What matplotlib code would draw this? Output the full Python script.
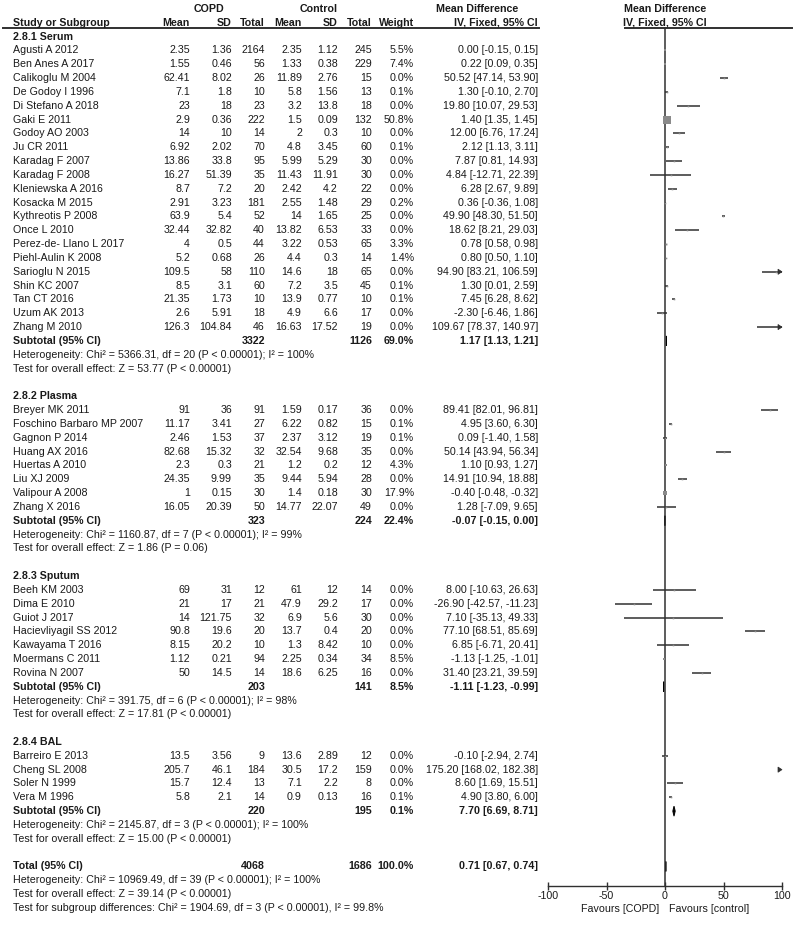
import numpy as np
import matplotlib
matplotlib.use("Agg")
import matplotlib.pyplot as plt
from matplotlib.patches import Polygon

plt.rcParams["font.family"] = ["Liberation Sans", "DejaVu Sans"]
plt.rcParams["axes.unicode_minus"] = False

# ---- data ----
groups = ["2.8.1 Serum", "2.8.2 Plasma", "2.8.3 Sputum", "2.8.4 BAL"]
group_size = [21, 8, 7, 4]

studies = [
    "Agusti A 2012", "Ben Anes A 2017", "Calikoglu M 2004", "De Godoy I 1996",
    "Di Stefano A 2018", "Gaki E 2011", "Godoy AO 2003", "Ju CR 2011",
    "Karadag F 2007", "Karadag F 2008", "Kleniewska A 2016", "Kosacka M 2015",
    "Kythreotis P 2008", "Once L 2010", "Perez-de- Llano L 2017", "Piehl-Aulin K 2008",
    "Sarioglu N 2015", "Shin KC 2007", "Tan CT 2016", "Uzum AK 2013", "Zhang M 2010",
    "Breyer MK 2011", "Foschino Barbaro MP 2007", "Gagnon P 2014", "Huang AX 2016",
    "Huertas A 2010", "Liu XJ 2009", "Valipour A 2008", "Zhang X 2016",
    "Beeh KM 2003", "Dima E 2010", "Guiot J 2017", "Hacievliyagil SS 2012",
    "Kawayama T 2016", "Moermans C 2011", "Rovina N 2007",
    "Barreiro E 2013", "Cheng SL 2008", "Soler N 1999", "Vera M 1996",
]
copd_mean = [2.35, 1.55, 62.41, 7.1, 23, 2.9, 14, 6.92, 13.86, 16.27, 8.7, 2.91, 63.9,
             32.44, 4, 5.2, 109.5, 8.5, 21.35, 2.6, 126.3,
             91, 11.17, 2.46, 82.68, 2.3, 24.35, 1, 16.05,
             69, 21, 14, 90.8, 8.15, 1.12, 50,
             13.5, 205.7, 15.7, 5.8]
copd_sd = [1.36, 0.46, 8.02, 1.8, 18, 0.36, 10, 2.02, 33.8, 51.39, 7.2, 3.23, 5.4,
           32.82, 0.5, 0.68, 58, 3.1, 1.73, 5.91, 104.84,
           36, 3.41, 1.53, 15.32, 0.3, 9.99, 0.15, 20.39,
           31, 17, 121.75, 19.6, 20.2, 0.21, 14.5,
           3.56, 46.1, 12.4, 2.1]
copd_n = [2164, 56, 26, 10, 23, 222, 14, 70, 95, 35, 20, 181, 52, 40, 44, 26, 110, 60, 10, 18, 46,
          91, 27, 37, 32, 21, 35, 30, 50,
          12, 21, 32, 20, 10, 94, 14,
          9, 184, 13, 14]
ctrl_mean = [2.35, 1.33, 11.89, 5.8, 3.2, 1.5, 2, 4.8, 5.99, 11.43, 2.42, 2.55, 14,
             13.82, 3.22, 4.4, 14.6, 7.2, 13.9, 4.9, 16.63,
             1.59, 6.22, 2.37, 32.54, 1.2, 9.44, 1.4, 14.77,
             61, 47.9, 6.9, 13.7, 1.3, 2.25, 18.6,
             13.6, 30.5, 7.1, 0.9]
ctrl_sd = [1.12, 0.38, 2.76, 1.56, 13.8, 0.09, 0.3, 3.45, 5.29, 11.91, 4.2, 1.48, 1.65,
           6.53, 0.53, 0.3, 18, 3.5, 0.77, 6.6, 17.52,
           0.17, 0.82, 3.12, 9.68, 0.2, 5.94, 0.18, 22.07,
           12, 29.2, 5.6, 0.4, 8.42, 0.34, 6.25,
           2.89, 17.2, 2.2, 0.13]
ctrl_n = [245, 229, 15, 13, 18, 132, 10, 60, 30, 30, 22, 29, 25, 33, 65, 14, 65, 45, 10, 17, 19,
          36, 15, 19, 35, 12, 28, 30, 49,
          14, 17, 30, 20, 10, 34, 16,
          12, 159, 8, 16]
weight = [5.5, 7.4, 0.0, 0.1, 0.0, 50.8, 0.0, 0.1, 0.0, 0.0, 0.0, 0.2, 0.0, 0.0, 3.3, 1.4,
          0.0, 0.1, 0.1, 0.0, 0.0,
          0.0, 0.1, 0.1, 0.0, 4.3, 0.0, 17.9, 0.0,
          0.0, 0.0, 0.0, 0.0, 0.0, 8.5, 0.0,
          0.0, 0.0, 0.0, 0.1]
md = [0.00, 0.22, 50.52, 1.30, 19.80, 1.40, 12.00, 2.12, 7.87, 4.84, 6.28, 0.36, 49.90,
      18.62, 0.78, 0.80, 94.90, 1.30, 7.45, -2.30, 109.67,
      89.41, 4.95, 0.09, 50.14, 1.10, 14.91, -0.40, 1.28,
      8.00, -26.90, 7.10, 77.10, 6.85, -1.13, 31.40,
      -0.10, 175.20, 8.60, 4.90]
ci_lo = [-0.15, 0.09, 47.14, -0.10, 10.07, 1.35, 6.76, 1.13, 0.81, -12.71, 2.67, -0.36, 48.30,
         8.21, 0.58, 0.50, 83.21, 0.01, 6.28, -6.46, 78.37,
         82.01, 3.60, -1.40, 43.94, 0.93, 10.94, -0.48, -7.09,
         -10.63, -42.57, -35.13, 68.51, -6.71, -1.25, 23.21,
         -2.94, 168.02, 1.69, 3.80]
ci_hi = [0.15, 0.35, 53.90, 2.70, 29.53, 1.45, 17.24, 3.11, 14.93, 22.39, 9.89, 1.08, 51.50,
         29.03, 0.98, 1.10, 106.59, 2.59, 8.62, 1.86, 140.97,
         96.81, 6.30, 1.58, 56.34, 1.27, 18.88, -0.32, 9.65,
         26.63, -11.23, 49.33, 85.69, 20.41, -1.01, 39.59,
         2.74, 182.38, 15.51, 6.00]

sub_copd_n = [3322, 323, 203, 220]
sub_ctrl_n = [1126, 224, 141, 195]
sub_weight = [69.0, 22.4, 8.5, 0.1]
sub_md = [1.17, -0.07, -1.11, 7.70]
sub_lo = [1.13, -0.15, -1.23, 6.69]
sub_hi = [1.21, 0.00, -0.99, 8.71]
sub_het = ["Heterogeneity: Chi² = 5366.31, df = 20 (P < 0.00001); I² = 100%",
           "Heterogeneity: Chi² = 1160.87, df = 7 (P < 0.00001); I² = 99%",
           "Heterogeneity: Chi² = 391.75, df = 6 (P < 0.00001); I² = 98%",
           "Heterogeneity: Chi² = 2145.87, df = 3 (P < 0.00001); I² = 100%"]
sub_test = ["Test for overall effect: Z = 53.77 (P < 0.00001)",
            "Test for overall effect: Z = 1.86 (P = 0.06)",
            "Test for overall effect: Z = 17.81 (P < 0.00001)",
            "Test for overall effect: Z = 15.00 (P < 0.00001)"]

total_n = [4068, 1686]
total_weight = 100.0
total_md, total_lo, total_hi = 0.71, 0.67, 0.74
total_notes = ["Heterogeneity: Chi² = 10969.49, df = 39 (P < 0.00001); I² = 100%",
               "Test for overall effect: Z = 39.14 (P < 0.00001)",
               "Test for subgroup differences: Chi² = 1904.69, df = 3 (P < 0.00001), I² = 99.8%"]

axis_ticks = [-100, -50, 0, 50, 100]

# ---- layout (pixels) ----
W, H = 797, 926
FS = 7.7
TXT = "#1a1a1a"
LINE = "#303030"
SQ = "#8a8a8a"
ROW0, DY = 9.0, 13.83
AX_L, AX_R, AX_B = 548, 782, 886
COLS = [190, 232, 265, 302, 338, 372, 414, 538]  # right edges of numeric columns


def row_y(i):
    return ROW0 + i * DY


fig = plt.figure(figsize=(W / 100, H / 100), dpi=100)
tx = fig.add_axes([0, 0, 1, 1])
tx.set_xlim(0, W)
tx.set_ylim(H, 0)
tx.axis("off")

fx = fig.add_axes([AX_L / W, (H - AX_B) / H, (AX_R - AX_L) / W, AX_B / H])
fx.patch.set_visible(False)
fx.set_xlim(-100, 100)
fx.set_ylim(AX_B, 0)
for s in ["top", "left", "right"]:
    fx.spines[s].set_visible(False)
fx.spines["bottom"].set_color(LINE)
fx.spines["bottom"].set_linewidth(1)
fx.set_yticks([])
fx.set_xticks(axis_ticks)
fx.tick_params(axis="x", direction="inout", length=6, width=1, color=LINE,
               labelsize=FS, labelcolor=TXT, pad=0.5)

px = (AX_R - AX_L) / 200.0  # pixels per data unit


def put(x, y, s, ha="right", bold=False):
    tx.text(x, y, s, ha=ha, va="center", fontsize=FS, color=TXT,
            fontweight="bold" if bold else "normal")


def arrowhead(y):
    L = 4.0 / px
    fx.add_patch(Polygon([(100 - L, y - 2.6), (100 - L, y + 2.6), (100, y)],
                         closed=True, fc=LINE, ec=LINE, lw=0.5, clip_on=False))


def draw_study(y, m, lo, hi, w):
    if lo >= 100:
        arrowhead(y)
        return
    fx.plot([max(lo, -100), min(hi, 100)], [y, y], color=LINE, lw=1.1,
            solid_capstyle="butt", clip_on=False)
    if hi > 100:
        arrowhead(y)
    if -100 <= m <= 100:
        side = max(1.6, 7.3 * np.sqrt(w / 50.8))
        fx.plot([m], [y], marker="s", ms=side * 0.72, mfc=SQ, mec=SQ, mew=0,
                linestyle="none", clip_on=False)


def diamond(y, m, lo, hi):
    fx.add_patch(Polygon([(lo, y), (m, y - 5), (hi, y), (m, y + 5)], closed=True,
                         fc="black", ec="black", lw=0.7, clip_on=False))


# header
put(209, row_y(0), "COPD", ha="center", bold=True)
put(319, row_y(0), "Control", ha="center", bold=True)
put(477, row_y(0), "Mean Difference", ha="center", bold=True)
put(665, row_y(0), "Mean Difference", ha="center", bold=True)
put(13, row_y(1), "Study or Subgroup", ha="left", bold=True)
for x, s in zip(COLS, ["Mean", "SD", "Total", "Mean", "SD", "Total", "Weight", "IV, Fixed, 95% CI"]):
    put(x, row_y(1), s, bold=True)
put(665, row_y(1), "IV, Fixed, 95% CI", ha="center", bold=True)
tx.plot([3, 539], [27.5, 27.5], color=LINE, lw=1.4)
tx.plot([625, 792], [27.5, 27.5], color=LINE, lw=1.4)

# body
r = 2
k0 = 0
for g, gname in enumerate(groups):
    put(13, row_y(r), gname, ha="left", bold=True)
    r += 1
    for k in range(k0, k0 + group_size[g]):
        y = row_y(r)
        put(13, y, studies[k], ha="left")
        vals = [f"{copd_mean[k]:g}", f"{copd_sd[k]:g}", f"{copd_n[k]}",
                f"{ctrl_mean[k]:g}", f"{ctrl_sd[k]:g}", f"{ctrl_n[k]}",
                f"{weight[k]:.1f}%", f"{md[k]:.2f} [{ci_lo[k]:.2f}, {ci_hi[k]:.2f}]"]
        for x, s in zip(COLS, vals):
            put(x, y, s)
        draw_study(y, md[k], ci_lo[k], ci_hi[k], weight[k])
        r += 1
    k0 += group_size[g]
    y = row_y(r)
    put(13, y, "Subtotal (95% CI)", ha="left", bold=True)
    put(COLS[2], y, f"{sub_copd_n[g]}", bold=True)
    put(COLS[5], y, f"{sub_ctrl_n[g]}", bold=True)
    put(COLS[6], y, f"{sub_weight[g]:.1f}%", bold=True)
    put(COLS[7], y, f"{sub_md[g]:.2f} [{sub_lo[g]:.2f}, {sub_hi[g]:.2f}]", bold=True)
    diamond(y, sub_md[g], sub_lo[g], sub_hi[g])
    put(13, row_y(r + 1), sub_het[g], ha="left")
    put(13, row_y(r + 2), sub_test[g], ha="left")
    r += 4

y = row_y(r)
put(13, y, "Total (95% CI)", ha="left", bold=True)
put(COLS[2], y, f"{total_n[0]}", bold=True)
put(COLS[5], y, f"{total_n[1]}", bold=True)
put(COLS[6], y, f"{total_weight:.1f}%", bold=True)
put(COLS[7], y, f"{total_md:.2f} [{total_lo:.2f}, {total_hi:.2f}]", bold=True)
diamond(y, total_md, total_lo, total_hi)
for i, s in enumerate(total_notes):
    put(13, row_y(r + 1 + i), s, ha="left")

# zero line and favours labels
fx.plot([0, 0], [27.5, AX_B], color=LINE, lw=1.1, zorder=1)
put(659, 909, "Favours [COPD]", ha="right")
put(669, 909, "Favours [control]", ha="left")

fig.savefig("out.png", dpi=100)
